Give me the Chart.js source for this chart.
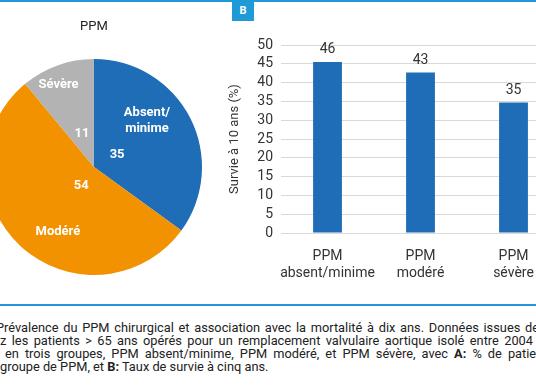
<!DOCTYPE html>
<html lang="fr">
<head>
<meta charset="utf-8">
<script src="https://cdn.jsdelivr.net/npm/chart.js@4.4.1/dist/chart.umd.min.js"></script>
<style>
  html, body { margin: 0; padding: 0; background: #fff; }
  body { width: 536px; height: 386px; position: relative; overflow: hidden; font-family: Roboto, "DejaVu Sans", sans-serif; }
  .barre { position: absolute; left: 0; width: 536px; height: 2px; background: #1e9ad6; }
  #lettreB { position: absolute; left: 232px; top: 0; width: 22px; height: 21px; background: #1e9ad6; color: #fff;
    font: bold 11px Roboto, sans-serif; text-align: center; line-height: 22px; }
  #cPie { position: absolute; left: -36px; top: 0; }
  #cBar { position: absolute; left: 222px; top: 0; }
  .legende { position: absolute; white-space: nowrap; font-size: 12.8px; line-height: 13px; color: #222; }
</style>
</head>
<body>
<div class="barre" style="top:0"></div>
<div id="lettreB">B</div>
<canvas id="cPie" width="260" height="275"></canvas>
<canvas id="cBar" width="338" height="290"></canvas>
<div class="barre" style="top:304px"></div>
<div class="legende" data-fin="539" style="left:-4px; top:321px">Prévalence du PPM chirurgical et association avec la mortalité à dix ans. Données issues de</div>
<div class="legende" data-fin="533" style="left:0; top:334px">z les patients &gt; 65 ans opérés pour un remplacement valvulaire aortique isolé entre 2004</div>
<div class="legende" data-fin="554" style="left:5px; top:347px">en trois groupes, PPM absent/minime, PPM modéré, et PPM sévère, avec <b>A:</b> % de patients</div>
<div class="legende" style="left:0; top:360px">groupe de PPM, et <b>B:</b> Taux de survie à cinq ans.</div>
<script>
// Données du camembert (A)
const groupesPie = ['Absent/\nminime', 'Modéré', 'Sévère'];
const valeursPie = [35, 54, 11];
const couleursPie = ['#1f6db6', '#f39200', '#b3b3b3'];

// Données des barres (B)
const groupesBar = [['PPM', 'absent/minime'], ['PPM', 'modéré'], ['PPM', 'sévère']];
const survie = [45.5, 42.7, 34.7];
const ticksY = [0, 5, 10, 15, 20, 25, 30, 35, 40, 45, 50];

const police = 'Roboto, "DejaVu Sans", sans-serif';

// Texte justifié de la légende : on élargit les espaces jusqu'au bord voulu
document.querySelectorAll('.legende[data-fin]').forEach(el => {
    const gauche = parseFloat(el.style.left) || 0;
    const largeur = el.getBoundingClientRect().width;
    const espaces = (el.textContent.match(/ /g) || []).length;
    const manque = parseFloat(el.dataset.fin) - gauche - largeur;
    if (espaces > 0 && manque > 0) {
        el.style.wordSpacing = (manque / espaces) + 'px';
    }
});

// Placement des étiquettes dans chaque part (rayon relatif, décalage angulaire en degrés)
const placement = [
    { valR: 0.24, valA: 0, nomR: 0.65, nomA: -14 },
    { valR: 0.21, valA: -9, nomR: 0.685, nomA: -14 },
    { valR: 0.33, valA: 0, nomR: 0.83, nomA: -3.5 }
];

// Dessine les valeurs et les noms en blanc dans les parts
const etiquettesPie = {
    id: 'etiquettesPie',
    afterDatasetsDraw(chart) {
        const ctx = chart.ctx;
        const meta = chart.getDatasetMeta(0);
        ctx.save();
        ctx.fillStyle = '#fff';
        ctx.font = 'bold 13px ' + police;
        ctx.textAlign = 'center';
        ctx.textBaseline = 'middle';
        meta.data.forEach((arc, i) => {
            const p = placement[i];
            const mid = (arc.startAngle + arc.endAngle) / 2;
            const aV = mid + p.valA * Math.PI / 180;
            const aN = mid + p.nomA * Math.PI / 180;
            ctx.fillText(String(valeursPie[i]), arc.x + Math.cos(aV) * arc.outerRadius * p.valR, arc.y + Math.sin(aV) * arc.outerRadius * p.valR);
            const lignes = groupesPie[i].split('\n');
            const xN = arc.x + Math.cos(aN) * arc.outerRadius * p.nomR;
            const yN = arc.y + Math.sin(aN) * arc.outerRadius * p.nomR;
            lignes.forEach((l, k) => {
                ctx.fillText(l, xN, yN + (k - (lignes.length - 1) / 2) * 16);
            });
        });
        ctx.restore();
    }
};

new Chart(document.getElementById('cPie'), {
    type: 'pie',
    data: {
        labels: groupesPie,
        datasets: [{ data: valeursPie, backgroundColor: couleursPie, borderWidth: 0 }]
    },
    options: {
        responsive: false,
        animation: false,
        layout: { padding: 0 },
        plugins: {
            legend: { display: false },
            tooltip: { enabled: false },
            title: {
                display: true,
                text: 'PPM',
                color: '#222',
                font: { family: police, size: 13, weight: 'normal', lineHeight: 1.2 },
                padding: { top: 19, bottom: 24.4 }
            }
        }
    },
    plugins: [etiquettesPie]
});

// Valeurs (arrondies) au-dessus des barres
const valeursBarres = {
    id: 'valeursBarres',
    afterDatasetsDraw(chart) {
        const ctx = chart.ctx;
        const meta = chart.getDatasetMeta(0);
        ctx.save();
        ctx.fillStyle = '#333';
        ctx.font = '14px ' + police;
        ctx.textAlign = 'center';
        ctx.textBaseline = 'middle';
        meta.data.forEach((bar, i) => {
            ctx.fillText(String(Math.round(survie[i])), bar.x, bar.y - 12);
        });
        ctx.restore();
    }
};

new Chart(document.getElementById('cBar'), {
    type: 'bar',
    data: {
        labels: groupesBar,
        datasets: [{ data: survie, backgroundColor: '#1f6db6', barPercentage: 0.62, categoryPercentage: 0.5 }]
    },
    options: {
        responsive: false,
        animation: false,
        layout: { padding: { top: 45, left: 0, right: 0, bottom: 0 } },
        plugins: { legend: { display: false }, tooltip: { enabled: false } },
        scales: {
            x: {
                grid: { display: false },
                border: { display: false },
                ticks: { color: '#333', font: { family: police, size: 14 }, padding: 7, maxRotation: 0, autoSkip: false },
                afterFit(scale) { scale.height = 57; }
            },
            y: {
                min: 0,
                max: 50,
                afterBuildTicks(scale) { scale.ticks = ticksY.map(v => ({ value: v })); },
                grid: { color: '#d9d9d9', drawTicks: false },
                border: { display: false },
                ticks: { color: '#333', font: { family: police, size: 14 }, padding: 8, autoSkip: false },
                title: {
                    display: true,
                    text: 'Survie à 10 ans (%)',
                    color: '#333',
                    font: { family: police, size: 13 },
                    padding: { top: 5, bottom: 0 }
                },
                afterFit(scale) { scale.width = 59; }
            }
        }
    },
    plugins: [valeursBarres]
});
</script>
</body>
</html>
